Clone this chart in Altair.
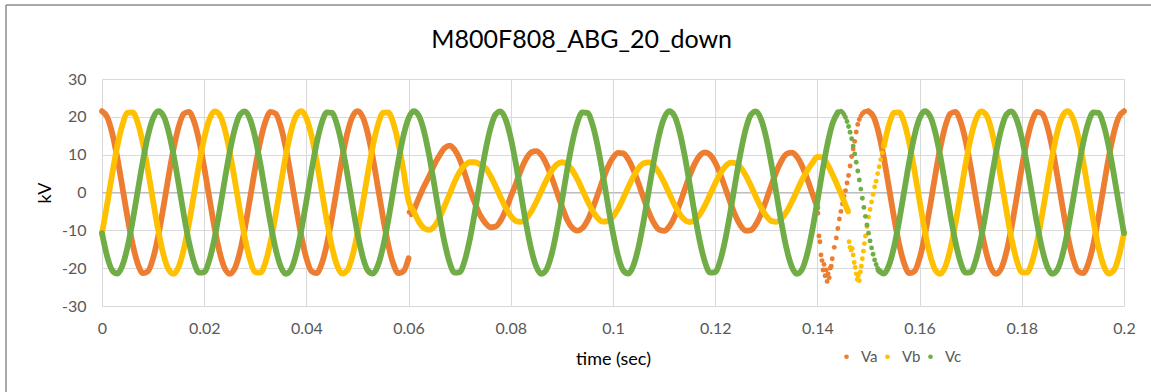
import altair as alt
import pandas as pd

# ---------------------------------------------------------------------------
# Phase voltages (kV), sampled every 1 ms.  Each list is one continuous run
# that starts at the given millisecond.
# ---------------------------------------------------------------------------

# Va, 0 .. 60 ms (healthy)
va_pre = [
    21.5, 19.99, 15.67, 9.15, 1.35, -6.64, -13.70, -18.84, -21.33, -20.82,
    -17.39, -11.52, -4.03, 4.03, 11.52, 17.39, 20.82, 21.33, 18.84, 13.70,
    6.64, -1.35, -9.15, -15.67, -19.99, -21.5, -19.99, -15.67, -9.15, -1.35,
    6.64, 13.70, 18.84, 21.33, 20.82, 17.39, 11.52, 4.03, -4.03, -11.52,
    -17.39, -20.82, -21.33, -18.84, -13.70, -6.64, 1.35, 9.15, 15.67, 19.99,
    21.5, 19.99, 15.67, 9.15, 1.35, -6.64, -13.70, -18.84, -21.33, -20.82,
    -17.39,
]
# Va, 61 .. 140 ms (fault on)
va_fault = [
    -4.8, -1.5, 1.6, 4.2, 7.3, 9.7, 11.7, 12.4, 11.3, 8.8,
    5.0, 0.8, -2.9, -6.0, -8.0, -9.19, -9.03, -7.44, -4.66, -1.06,
    2.33, 5.99, 8.88, 10.62, 10.94, 9.82, 7.40, 4.02, 0.16, -3.63,
    -7.13, -9.29, -10.10, -9.45, -7.43, -4.32, -0.57, 3.31, 6.76, 9.21,
    10.49, 10.33, 8.74, 5.96, 2.36, -1.53, -5.19, -8.08, -9.82, -10.14,
    -9.02, -6.60, -3.22, 0.64, 4.43, 7.63, 9.79, 10.60, 9.95, 7.93,
    4.82, 1.07, -2.81, -6.26, -8.81, -10.09, -9.93, -8.34, -5.56, -1.96,
    1.93, 5.59, 8.48, 10.22, 10.54, 9.42, 7.00, 3.62, -0.24, -4.03,
]
# Va, 150 .. 200 ms (restored)
va_post = [
    21.5, 19.99, 15.67, 9.15, 1.35, -6.64, -13.70, -18.84, -21.33, -20.82,
    -17.39, -11.52, -4.03, 4.03, 11.52, 17.39, 20.82, 21.33, 18.84, 13.70,
    6.64, -1.35, -9.15, -15.67, -19.99, -21.5, -19.99, -15.67, -9.15, -1.35,
    6.64, 13.70, 18.84, 21.33, 20.82, 17.39, 11.52, 4.03, -4.03, -11.52,
    -17.39, -20.82, -21.33, -18.84, -13.70, -6.64, 1.35, 9.15, 15.67, 19.99,
    21.5,
]

# Vb, 0 .. 146 ms (healthy, then fault on)
vb_main = [
    -10.75, -3.14, 4.91, 12.28, 17.91, 21.03, 21.20, 18.39, 13.00, 5.78,
    -2.25, -9.96, -16.28, -20.30, -21.48, -19.64, -15.04, -8.33, -0.45, 7.49,
    14.39, 19.26, 21.42, 20.58, 16.85, 10.75, 3.14, -4.91, -12.28, -17.91,
    -21.03, -21.20, -18.39, -13.00, -5.78, 2.25, 9.96, 16.28, 20.30, 21.48,
    19.64, 15.04, 8.33, 0.45, -7.49, -14.39, -19.26, -21.42, -20.58, -16.85,
    -10.75, -3.14, 4.91, 12.28, 17.91, 21.03, 21.20, 18.39, 13.00, 5.78,
    -2.25, -5.0, -7.7, -9.4, -9.9, -9.0, -6.8, -3.7, -0.5, 2.8,
    5.5, 7.2, 8.0, 8.0, 7.4, 6.57, 4.45, 1.72, -1.24, -4.02,
    -6.21, -7.52, -7.75, -6.89, -5.04, -2.47, 0.46, 3.34, 5.76, 7.39,
    8.00, 7.50, 5.95, 3.59, 0.73, -2.21, -4.83, -6.76, -7.72, -7.59,
    -6.37, -4.25, -1.52, 1.44, 4.22, 6.41, 7.72, 7.95, 7.09, 5.24,
    2.67, -0.26, -3.14, -5.56, -7.19, -7.80, -7.30, -5.75, -3.39, -0.53,
    2.41, 5.03, 6.96, 7.92, 7.79, 6.57, 4.45, 1.72, -1.24, -4.02,
    -6.21, -7.52, -7.75, -6.89, -5.04, -2.47, 0.46, 3.34, 5.76, 7.8,
    9.4, 9.3, 7.4, 4.6, 1.6, -1.6, -5.0,
]
# Vb, 153 .. 200 ms (restored)
vb_post = [
    12.28, 17.91, 21.03, 21.20, 18.39, 13.00, 5.78, -2.25, -9.96, -16.28,
    -20.30, -21.48, -19.64, -15.04, -8.33, -0.45, 7.49, 14.39, 19.26, 21.42,
    20.58, 16.85, 10.75, 3.14, -4.91, -12.28, -17.91, -21.03, -21.20, -18.39,
    -13.00, -5.78, 2.25, 9.96, 16.28, 20.30, 21.48, 19.64, 15.04, 8.33,
    0.45, -7.49, -14.39, -19.26, -21.42, -20.58, -16.85, -10.75,
]

# Vc, 0 .. 144 ms
vc_main = [
    -10.75, -16.85, -20.58, -21.43, -19.26, -14.39, -7.50, 0.45, 8.33, 15.04,
    19.64, 21.48, 20.31, 16.27, 9.96, 2.25, -5.78, -13.00, -18.39, -21.19,
    -21.03, -17.91, -12.27, -4.91, 3.14, 10.75, 16.85, 20.58, 21.43, 19.26,
    14.39, 7.50, -0.45, -8.33, -15.04, -19.64, -21.48, -20.31, -16.27, -9.96,
    -2.25, 5.78, 13.00, 18.39, 21.19, 21.03, 17.91, 12.27, 4.91, -3.14,
    -10.75, -16.85, -20.58, -21.43, -19.26, -14.39, -7.50, 0.45, 8.33, 15.04,
    19.64, 21.48, 20.31, 16.27, 9.96, 2.25, -5.78, -13.00, -18.39, -21.19,
    -21.03, -17.91, -12.27, -4.91, 3.14, 10.75, 16.85, 20.58, 21.43, 19.26,
    14.39, 7.50, -0.45, -8.33, -15.04, -19.64, -21.48, -20.31, -16.27, -9.96,
    -2.25, 5.78, 13.00, 18.39, 21.19, 21.03, 17.91, 12.27, 4.91, -3.14,
    -10.75, -16.85, -20.58, -21.43, -19.26, -14.39, -7.50, 0.45, 8.33, 15.04,
    19.64, 21.48, 20.31, 16.27, 9.96, 2.25, -5.78, -13.00, -18.39, -21.19,
    -21.03, -17.91, -12.27, -4.91, 3.14, 10.75, 16.85, 20.58, 21.43, 19.26,
    14.39, 7.50, -0.45, -8.33, -15.04, -19.64, -21.48, -20.31, -16.27, -9.96,
    -2.25, 5.78, 13.00, 18.39, 21.19,
]
# Vc, 152 .. 200 ms
vc_post = [
    -20.58, -21.43, -19.26, -14.39, -7.50, 0.45, 8.33, 15.04, 19.64, 21.48,
    20.31, 16.27, 9.96, 2.25, -5.78, -13.00, -18.39, -21.19, -21.03, -17.91,
    -12.27, -4.91, 3.14, 10.75, 16.85, 20.58, 21.43, 19.26, 14.39, 7.50,
    -0.45, -8.33, -15.04, -19.64, -21.48, -20.31, -16.27, -9.96, -2.25, 5.78,
    13.00, 18.39, 21.19, 21.03, 17.91, 12.27, 4.91, -3.14, -10.75,
]

# Sparse samples around fault inception / clearing (time s, kV)
va_dot_t = [
    0.0601, 0.0603, 0.0605, 0.0607,
    0.1401, 0.1403, 0.1405, 0.1407, 0.1409, 0.1411, 0.1413, 0.1415, 0.1417,
    0.1419, 0.1421, 0.1423, 0.1425, 0.1427, 0.1429, 0.1433, 0.1437, 0.1440,
    0.1443, 0.1446, 0.1449, 0.1452, 0.1455, 0.1458, 0.1461, 0.1464, 0.1467,
    0.1470, 0.1473, 0.1476, 0.1479, 0.1482, 0.1485, 0.1488, 0.1491, 0.1494,
    0.1497,
]
va_dot_v = [
    -5.2, -4.0, -5.9, -4.5,
    -5.5, -11.5, -13.0, -16.5, -18.0, -20.5, -19.0, -22.0, -20.5,
    -23.5, -21.5, -22.5, -20.0, -19.5, -17.5, -14.5, -12.0, -9.5,
    -7.0, -5.0, -3.0, -1.0, 0.5, 2.5, 4.5, 7.0, 9.5,
    11.5, 13.5, 16.0, 18.0, 19.3, 20.2, 20.8, 21.2, 21.4,
    21.5,
]
vb_dot_t = [
    0.1462, 0.1464, 0.1466, 0.1468, 0.1470, 0.1472, 0.1474, 0.1476, 0.1478,
    0.1480, 0.1482, 0.1484, 0.1486, 0.1488, 0.1490, 0.1492, 0.1494, 0.1497,
    0.1500, 0.1503, 0.1506, 0.1509, 0.1512, 0.1515, 0.1518, 0.1521, 0.1524,
    0.1527,
]
vb_dot_v = [
    -13.0, -14.5, -15.2, -14.8, -16.5, -18.5, -19.8, -21.5, -23.0,
    -22.0, -23.3, -21.0, -19.5, -17.5, -15.5, -13.5, -11.5, -9.0,
    -6.5, -4.5, -2.5, -0.5, 1.5, 3.0, 5.0, 6.8, 8.7,
    10.5,
]
vc_dot_t = [
    0.1446, 0.1449, 0.1452, 0.1455, 0.1458, 0.1461, 0.1464, 0.1467, 0.1470,
    0.1473, 0.1476, 0.1479, 0.1482, 0.1485, 0.1488, 0.1491, 0.1494, 0.1497,
    0.1500, 0.1503, 0.1506, 0.1509, 0.1512, 0.1515, 0.1518, 0.1521,
]
vc_dot_v = [
    21.46, 21.18, 20.63, 19.82, 18.75, 17.45, 15.91, 14.19, 12.27,
    10.20, 8.00, 5.70, 3.32, 0.90, -1.53, -3.94, -6.30, -8.58,
    -10.75, -12.79, -14.65, -16.33, -17.81, -19.05, -20.06, -20.80,
]

SERIES = ["Va", "Vb", "Vc"]
COLORS = ["#ED7D31", "#FFC000", "#70AD47"]
X_TICKS = [0, 0.02, 0.04, 0.06, 0.08, 0.1, 0.12, 0.14, 0.16, 0.18, 0.2]
Y_TICKS = [-30, -20, -10, 0, 10, 20, 30]

runs = {
    "Va": [(0, va_pre), (61, va_fault), (150, va_post)],
    "Vb": [(0, vb_main), (153, vb_post)],
    "Vc": [(0, vc_main), (152, vc_post)],
}
dots = {
    "Va": (va_dot_t, va_dot_v),
    "Vb": (vb_dot_t, vb_dot_v),
    "Vc": (vc_dot_t, vc_dot_v),
}

# ---------------------------------------------------------------------------
# Layout (pixels): plot area placed with explicit padding
# ---------------------------------------------------------------------------
W, H = 1151, 392
PL, PT = 102, 79
PW, PH = 1022, 227
FONT = "Lato"

x_scale = alt.Scale(domain=[0, 0.2], nice=False, zero=False)
y_scale = alt.Scale(domain=[-30, 30], nice=False, zero=False)

x_axis = alt.Axis(
    values=X_TICKS, labelExpr="'' + datum.value",
    grid=True, gridColor="#D9D9D9", gridWidth=1,
    domain=False, ticks=False,
    labelFont=FONT, labelFontSize=16, labelColor="#595959", labelPadding=14,
    labelFlush=False,
    title="time (sec)", titleFont=FONT, titleFontSize=18,
    titleFontWeight="normal", titleColor="#000000",
    titleX=PW / 2, titleY=53, titleAlign="center", titleBaseline="middle",
)
y_axis = alt.Axis(
    values=Y_TICKS, labelExpr="'' + datum.value",
    grid=True, gridColor="#D9D9D9", gridWidth=1,
    domain=False, ticks=False,
    labelFont=FONT, labelFontSize=16, labelColor="#595959", labelPadding=16,
    title="kV", titleFont=FONT, titleFontSize=18,
    titleFontWeight="normal", titleColor="#000000",
    titleX=-57, titleY=PH / 2, titleAlign="center", titleBaseline="middle",
    titleAngle=270,
)

X = alt.X("t:Q", scale=x_scale, axis=x_axis)
Y = alt.Y("v:Q", scale=y_scale, axis=y_axis)

legend = alt.Legend(
    title=None, orient="none", direction="horizontal",
    legendX=737, legendY=270,
    symbolType="circle", symbolSize=22, symbolStrokeWidth=0,
    labelFont=FONT, labelFontSize=15, labelColor="#595959",
    labelOffset=7, columnPadding=2, padding=0,
)
fill_enc = alt.Fill(
    "series:N", scale=alt.Scale(domain=SERIES, range=COLORS), legend=legend
)

blank = alt.Data(values=[{}])

layers = []

# zero line sits slightly darker than the grid
zero_df = pd.DataFrame({"t": [0, 0.2], "v": [0, 0]})
layers.append(
    alt.Chart(zero_df).mark_line(color="#BFBFBF", strokeWidth=1.2).encode(x=X, y=Y)
)

for name, color in zip(SERIES, COLORS):
    rows = []
    for run_id, (start_ms, vals) in enumerate(runs[name]):
        for i, v in enumerate(vals):
            rows.append({"run": run_id, "t": (start_ms + i) / 1000, "v": v})
    ldf = pd.DataFrame(rows)
    layers.append(
        alt.Chart(ldf).mark_line(
            stroke=color, strokeWidth=5.8, interpolate="monotone",
            strokeCap="round", strokeJoin="round",
        ).encode(x=X, y=Y, detail="run:N", order="t:Q")
    )
    dt, dv = dots[name]
    ddf = pd.DataFrame({"series": name, "t": dt, "v": dv})
    layers.append(
        alt.Chart(ddf).mark_circle(size=24, opacity=1).encode(
            x=X, y=Y, fill=fill_enc
        )
    )

# chart title
layers.append(
    alt.Chart(blank).mark_text(
        text="M800F808_ABG_20_down", font=FONT, fontSize=25,
        color="#000000", align="center", baseline="alphabetic",
    ).encode(x=alt.value(581.7 - PL), y=alt.value(47.5 - PT))
)

# outer chart frame (left and top edges)
frame_color = "#8C8C8C"
layers.append(
    alt.Chart(blank).mark_rule(color=frame_color, strokeWidth=1.5).encode(
        x=alt.value(6 - PL), y=alt.value(5 - PT), y2=alt.value(H - PT + 5)
    )
)
layers.append(
    alt.Chart(blank).mark_rule(color=frame_color, strokeWidth=1.5).encode(
        x=alt.value(6 - PL), x2=alt.value(W - PL + 5), y=alt.value(5 - PT)
    )
)

chart = alt.layer(*layers).properties(
    width=PW, height=PH,
    padding={"left": PL, "top": PT, "right": W - PL - PW, "bottom": H - PT - PH},
    autosize=alt.AutoSizeParams(type="none"),
    background="white",
).configure_view(strokeWidth=0)

chart.save("out.html", embed_options={"renderer": "svg", "actions": False})
